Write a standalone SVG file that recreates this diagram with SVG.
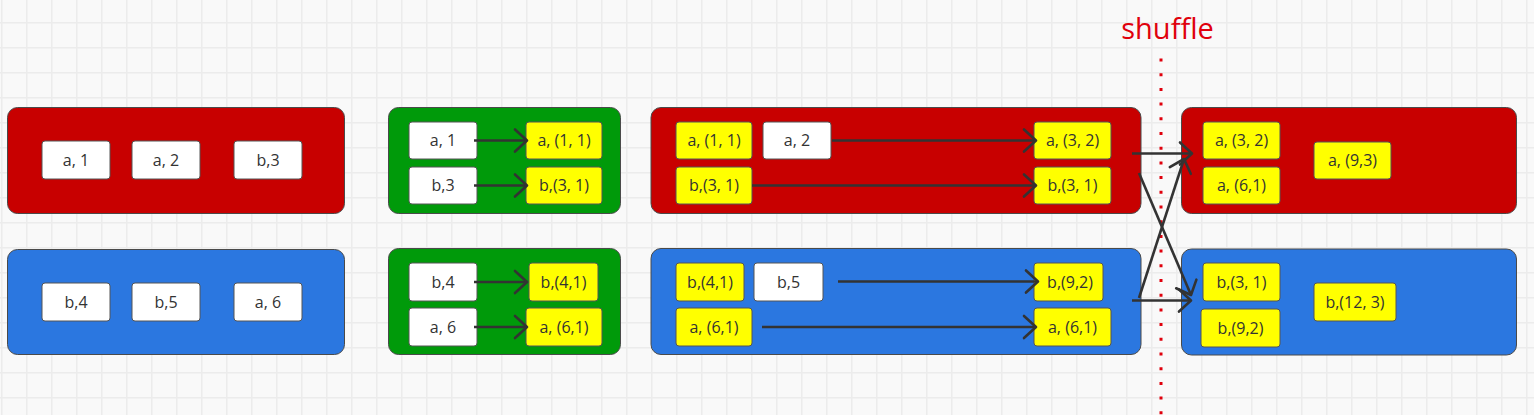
<svg xmlns="http://www.w3.org/2000/svg" width="1534" height="415" viewBox="0 0 1534 415">
<defs>
<pattern id="grid" patternUnits="userSpaceOnUse" x="1" y="22" width="25" height="25">
<path d="M0,0.75 H25 M0.75,0 V25" stroke="#ececec" stroke-width="1.5" fill="none"/>
</pattern>
<marker id="arr" markerUnits="userSpaceOnUse" viewBox="-15 -14 18 28" markerWidth="18" markerHeight="28" refX="0" refY="0" orient="auto">
<path d="M-12,-11 L0,0 L-12,11" fill="none" stroke="#333" stroke-width="2.6" stroke-linecap="round" stroke-linejoin="round"/>
</marker>
</defs>
<style>
.c{stroke:#4a4a4a;stroke-width:1}
.red{fill:#c80000}
.blue{fill:#2b77e0}
.green{fill:#009a0a}
.w{fill:#ffffff;stroke:#555;stroke-width:1}
.y{fill:#ffff00;stroke:#555;stroke-width:1}
.t{font-family:"Open Sans","Noto Sans",sans-serif;font-size:16px;fill:#333;text-anchor:middle}
.conn line{stroke:#333;stroke-width:2.6;marker-end:url(#arr)}
</style>
<rect width="1534" height="415" fill="#f9f9f9"/>
<rect width="1534" height="415" fill="url(#grid)"/>

<g id="container-red-1"><rect class="c red" x="7.5" y="107.5" width="337" height="106" rx="10"/></g>
<g id="container-blue-1"><rect class="c blue" x="7.5" y="249.5" width="337" height="105" rx="10"/></g>
<g id="container-green-1"><rect class="c green" x="388.5" y="107.5" width="232" height="106" rx="10"/></g>
<g id="container-green-2"><rect class="c green" x="388.5" y="248.5" width="232" height="106" rx="10"/></g>
<g id="container-red-2"><rect class="c red" x="651" y="107.5" width="490" height="106" rx="10"/></g>
<g id="container-blue-2"><rect class="c blue" x="651" y="248.5" width="490" height="106" rx="10"/></g>
<g id="container-red-3"><rect class="c red" x="1181.5" y="107.5" width="335" height="106" rx="10"/></g>
<g id="container-blue-3"><rect class="c blue" x="1181.5" y="249" width="335" height="106" rx="10"/></g>

<g id="n-r1-a1"><rect class="w" x="42" y="141" width="68" height="38" rx="3"/><text class="t" x="76" y="165.5">a, 1</text></g>
<g id="n-r1-a2"><rect class="w" x="132" y="141" width="68" height="38" rx="3"/><text class="t" x="166" y="165.5">a, 2</text></g>
<g id="n-r1-b3"><rect class="w" x="234" y="141" width="68" height="38" rx="3"/><text class="t" x="268" y="165.5">b,3</text></g>

<g id="n-b1-b4"><rect class="w" x="42" y="283" width="68" height="38" rx="3"/><text class="t" x="76" y="307.5">b,4</text></g>
<g id="n-b1-b5"><rect class="w" x="132" y="283" width="68" height="38" rx="3"/><text class="t" x="166" y="307.5">b,5</text></g>
<g id="n-b1-a6"><rect class="w" x="234" y="283" width="68" height="38" rx="3"/><text class="t" x="268" y="307.5">a, 6</text></g>

<g id="n-g1-a1"><rect class="w" x="409" y="122" width="68" height="37" rx="3"/><text class="t" x="443" y="146">a, 1</text></g>
<g id="n-g1-b3"><rect class="w" x="409" y="167" width="68" height="37" rx="3"/><text class="t" x="443" y="191">b,3</text></g>
<g id="n-g1-a11"><rect class="y" x="526" y="122" width="76" height="37" rx="3"/><text class="t" x="564" y="146">a, (1, 1)</text></g>
<g id="n-g1-b31"><rect class="y" x="526" y="167" width="76" height="37" rx="3"/><text class="t" x="564" y="191">b,(3, 1)</text></g>

<g id="n-g2-b4"><rect class="w" x="409" y="263" width="68" height="38" rx="3"/><text class="t" x="443" y="287.5">b,4</text></g>
<g id="n-g2-a6"><rect class="w" x="409" y="308" width="68" height="38" rx="3"/><text class="t" x="443" y="332.5">a, 6</text></g>
<g id="n-g2-b41"><rect class="y" x="529" y="263" width="69" height="38" rx="3"/><text class="t" x="563.5" y="287.5">b,(4,1)</text></g>
<g id="n-g2-a61"><rect class="y" x="526" y="308" width="76" height="38" rx="3"/><text class="t" x="564" y="332.5">a, (6,1)</text></g>

<g id="n-r2-a11"><rect class="y" x="676" y="122" width="76" height="37" rx="3"/><text class="t" x="714" y="146">a, (1, 1)</text></g>
<g id="n-r2-a2"><rect class="w" x="763" y="122" width="68" height="37" rx="3"/><text class="t" x="797" y="146">a, 2</text></g>
<g id="n-r2-b31"><rect class="y" x="676" y="167" width="76" height="37" rx="3"/><text class="t" x="714" y="191">b,(3, 1)</text></g>
<g id="n-r2-a32"><rect class="y" x="1034" y="122" width="77" height="37" rx="3"/><text class="t" x="1072.5" y="146">a, (3, 2)</text></g>
<g id="n-r2-b31r"><rect class="y" x="1034" y="167" width="77" height="37" rx="3"/><text class="t" x="1072.5" y="191">b,(3, 1)</text></g>

<g id="n-b2-b41"><rect class="y" x="676" y="263" width="68" height="38" rx="3"/><text class="t" x="710" y="287.5">b,(4,1)</text></g>
<g id="n-b2-b5"><rect class="w" x="754" y="263" width="69" height="38" rx="3"/><text class="t" x="788.5" y="287.5">b,5</text></g>
<g id="n-b2-a61"><rect class="y" x="676" y="308" width="76" height="38" rx="3"/><text class="t" x="714" y="332.5">a, (6,1)</text></g>
<g id="n-b2-b92"><rect class="y" x="1034" y="263" width="69" height="38" rx="3"/><text class="t" x="1070" y="287.5">b,(9,2)</text></g>
<g id="n-b2-a61r"><rect class="y" x="1034" y="308" width="77" height="38" rx="3"/><text class="t" x="1072.5" y="332.5">a, (6,1)</text></g>

<g id="n-r3-a32"><rect class="y" x="1203" y="122" width="77" height="37" rx="3"/><text class="t" x="1241.5" y="146">a, (3, 2)</text></g>
<g id="n-r3-a61"><rect class="y" x="1203" y="167" width="77" height="37" rx="3"/><text class="t" x="1241.5" y="191">a, (6,1)</text></g>
<g id="n-r3-a93"><rect class="y" x="1314" y="142" width="77" height="37" rx="3"/><text class="t" x="1352.5" y="166">a, (9,3)</text></g>

<g id="n-b3-b31"><rect class="y" x="1203" y="263" width="77" height="38" rx="3"/><text class="t" x="1241.5" y="287.5">b,(3, 1)</text></g>
<g id="n-b3-b92"><rect class="y" x="1201" y="309" width="79" height="38" rx="3"/><text class="t" x="1240.5" y="333.5">b,(9,2)</text></g>
<g id="n-b3-b123"><rect class="y" x="1314" y="283" width="82" height="38" rx="3"/><text class="t" x="1355" y="307.5">b,(12, 3)</text></g>

<g id="shuffle">
<text x="1167.5" y="38.5" font-family="'Open Sans','Noto Sans',sans-serif" font-size="29" fill="#e0000c" text-anchor="middle">shuffle</text>
<line x1="1161" y1="58.5" x2="1161" y2="415" stroke="#e0000c" stroke-width="3" stroke-dasharray="3 11.7"/>
</g>

<g id="connectors" class="conn">
<line x1="474" y1="140.5" x2="527" y2="140.5"/>
<line x1="474" y1="185.5" x2="527" y2="185.5"/>
<line x1="474" y1="282" x2="527" y2="282"/>
<line x1="474" y1="327" x2="527" y2="327"/>
<line x1="832" y1="140.5" x2="1036" y2="140.5"/>
<line x1="752" y1="185.5" x2="1036" y2="185.5"/>
<line x1="838" y1="281.5" x2="1038" y2="281.5"/>
<line x1="762" y1="327" x2="1036" y2="327"/>
<line x1="1132" y1="153.5" x2="1192" y2="153.5"/>
<line x1="1139" y1="173" x2="1191" y2="295"/>
<line x1="1132" y1="300.5" x2="1191" y2="300.5"/>
<line x1="1139" y1="298" x2="1184" y2="159"/>
</g>
</svg>
